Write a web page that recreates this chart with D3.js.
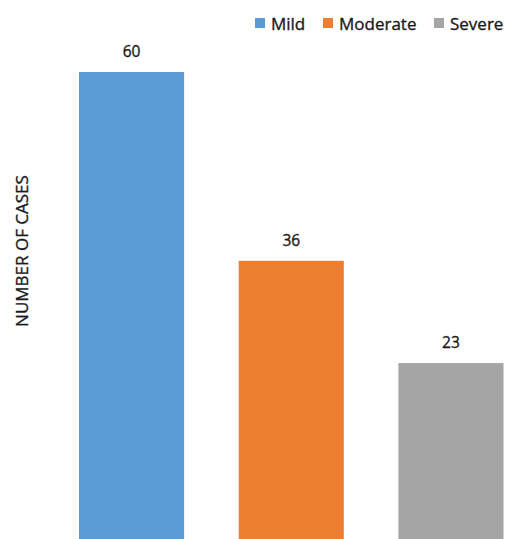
<!DOCTYPE html>
<html>
<head>
<meta charset="utf-8">
<script src="https://cdn.jsdelivr.net/npm/d3@7/dist/d3.min.js"></script>
<style>
  html, body { margin: 0; padding: 0; background: #fff; }
  svg { display: block; }
  text { paint-order: stroke; stroke: #1a1a1a; stroke-width: 0.35px; }
</style>
</head>
<body>
<script>
// Case counts by severity
const categories = ["Mild", "Moderate", "Severe"];
const values = [60, 36, 23];
const colors = ["#5b9bd5", "#ed7d31", "#a5a5a5"];
const yLabel = "NUMBER OF CASES";

const W = 519, H = 539;
const font = "'Open Sans', 'Liberation Sans', sans-serif";

const svg = d3.select("body").append("svg")
  .attr("width", W).attr("height", H);

const x = d3.scaleBand()
  .domain(categories)
  .range([79, 503.5])
  .paddingInner(0.342)
  .paddingOuter(0);

const y = d3.scaleLinear()
  .domain([0, 60])
  .range([544, 72]);

// Bars
svg.append("g").selectAll("rect")
  .data(categories)
  .join("rect")
  .attr("x", d => x(d))
  .attr("y", (d, i) => y(values[i]))
  .attr("width", x.bandwidth())
  .attr("height", (d, i) => y(0) - y(values[i]))
  .attr("fill", (d, i) => colors[i]);

// Value labels
svg.append("g").selectAll("text")
  .data(categories)
  .join("text")
  .attr("x", d => x(d) + x.bandwidth() / 2)
  .attr("y", (d, i) => y(values[i]) - 15)
  .attr("text-anchor", "middle")
  .attr("font-family", font)
  .attr("font-size", 15.5)
  .attr("fill", "#1a1a1a")
  .text((d, i) => values[i]);

// Y axis title
svg.append("text")
  .attr("transform", "translate(21,251) rotate(-90)")
  .attr("text-anchor", "middle")
  .attr("dominant-baseline", "central")
  .attr("font-family", font)
  .attr("font-size", 17)
  .attr("fill", "#1a1a1a")
  .text(yLabel);

// Legend
const legendX = [255, 323, 434];
const legend = svg.append("g").selectAll("g")
  .data(categories)
  .join("g")
  .attr("transform", (d, i) => `translate(${legendX[i]},18)`);
legend.append("rect")
  .attr("width", 10).attr("height", 10)
  .attr("fill", (d, i) => colors[i]);
legend.append("text")
  .attr("x", 16).attr("y", 5)
  .attr("dominant-baseline", "central")
  .attr("font-family", font)
  .attr("font-size", 17)
  .attr("fill", "#1a1a1a")
  .text(d => d);
</script>
</body>
</html>
